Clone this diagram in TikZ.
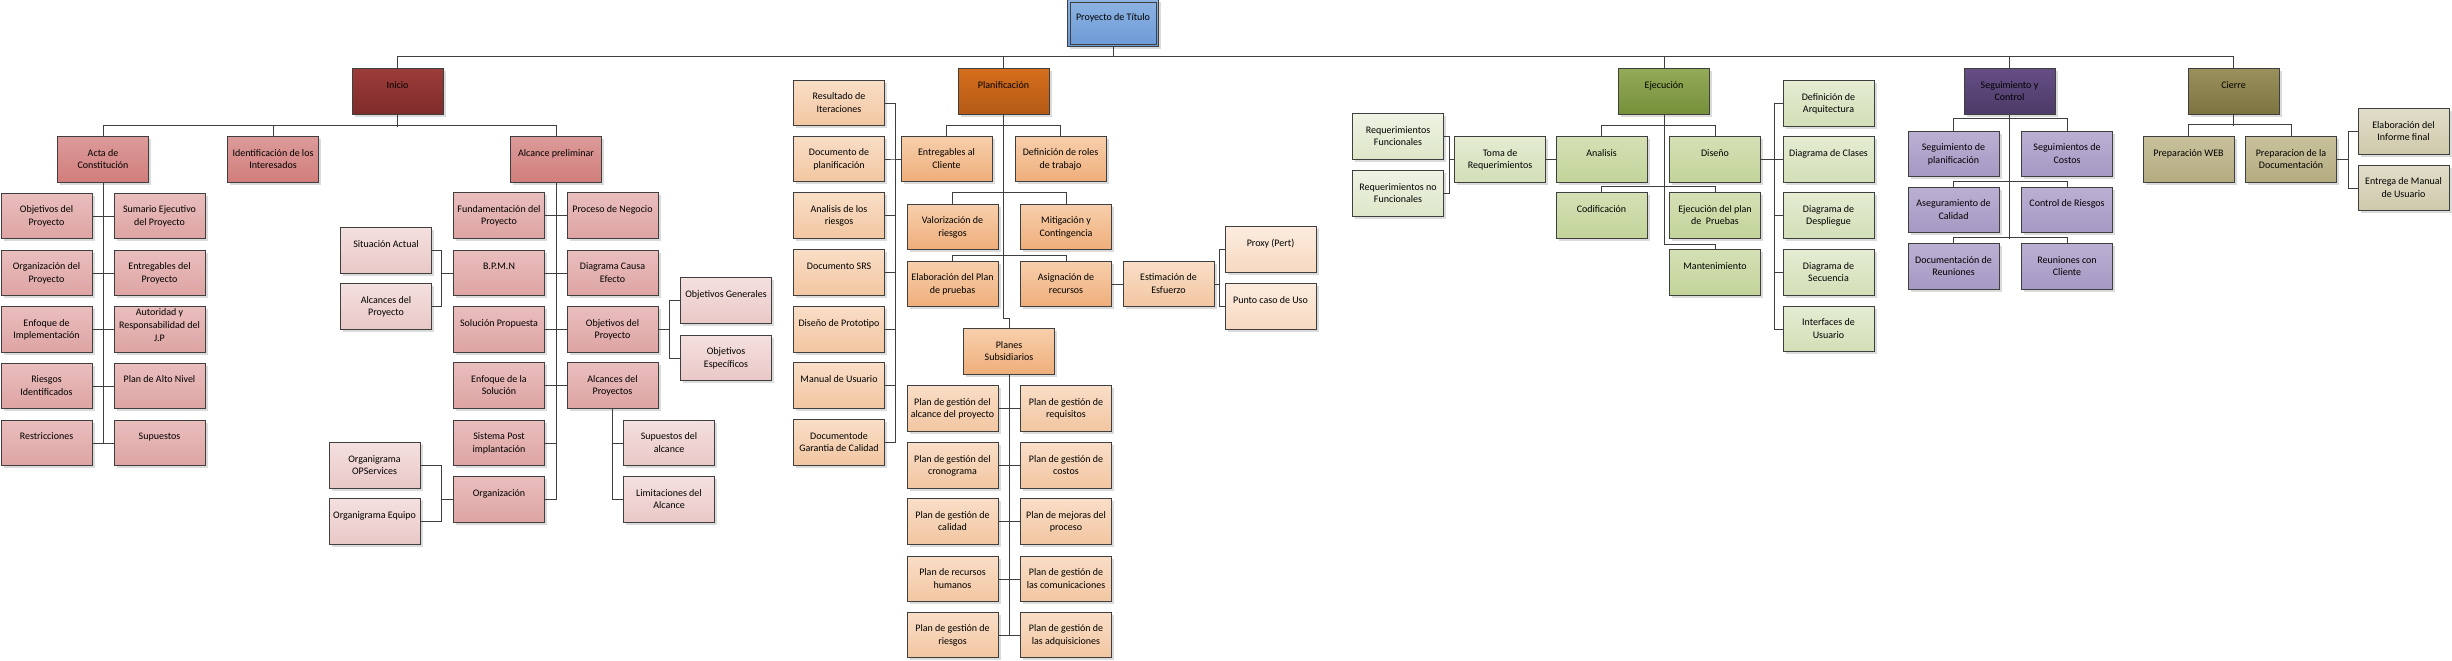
\documentclass[tikz,border=0pt]{standalone}
\usepackage{fontspec}
\setmainfont{Carlito}
\usetikzlibrary{shadows}
\definecolor{lc}{HTML}{3F3F3F}
\definecolor{rootT}{HTML}{8DB3E2}\definecolor{rootB}{HTML}{6C9AD6}
\definecolor{iniT}{HTML}{9C3C3A}\definecolor{iniB}{HTML}{7E2C2A}
\definecolor{redIIT}{HTML}{DB9B99}\definecolor{redIIB}{HTML}{D17E7C}
\definecolor{redIIIT}{HTML}{E9BEBD}\definecolor{redIIIB}{HTML}{DDA4A3}
\definecolor{redIVT}{HTML}{F4E0DF}\definecolor{redIVB}{HTML}{E9C8C7}
\definecolor{plaT}{HTML}{D66E1C}\definecolor{plaB}{HTML}{B35A16}
\definecolor{orIIT}{HTML}{F7CFAC}\definecolor{orIIB}{HTML}{EFAE7A}
\definecolor{orIIIT}{HTML}{F9DEC7}\definecolor{orIIIB}{HTML}{F2C6A1}
\definecolor{orIVT}{HTML}{FCECDF}\definecolor{orIVB}{HTML}{F7D9C0}
\definecolor{ejeT}{HTML}{93AA57}\definecolor{ejeB}{HTML}{76903A}
\definecolor{grIIT}{HTML}{D4E0B5}\definecolor{grIIB}{HTML}{C3D49A}
\definecolor{grIIIT}{HTML}{E4ECD2}\definecolor{grIIIB}{HTML}{D3DFB7}
\definecolor{grIVT}{HTML}{EEF3E3}\definecolor{grIVB}{HTML}{DDE6C8}
\definecolor{segT}{HTML}{654E85}\definecolor{segB}{HTML}{4D3A67}
\definecolor{puIIT}{HTML}{BBB0D3}\definecolor{puIIB}{HTML}{A598C3}
\definecolor{cieT}{HTML}{9A905B}\definecolor{cieB}{HTML}{7D7341}
\definecolor{olIIT}{HTML}{C8C19C}\definecolor{olIIB}{HTML}{B4AB80}
\definecolor{olIIIT}{HTML}{E1DDC9}\definecolor{olIIIB}{HTML}{CFC9AB}
\newcommand\bt[2][19.5pt]{\parbox[c][45.5pt][t]{91pt}{\centering\fontsize{10}{12.7}\selectfont\makebox[91pt]{\rule{0pt}{#1}\begin{tabular}[t]{@{}c@{}}#2\end{tabular}}}}
\tikzset{
  bx/.style={draw=lc, line width=1pt, inner sep=0pt, minimum width=91pt, minimum height=45.5pt, text=black,
    drop shadow={shadow xshift=2.5pt, shadow yshift=-2.5pt, fill=black!14, opacity=1}},
  rootbox/.style={bx, minimum width=90pt, minimum height=47pt, top color=rootT, bottom color=rootB},
  iniD/.style={bx, top color=iniT, bottom color=iniB},
  redII/.style={bx, top color=redIIT, bottom color=redIIB},
  redIII/.style={bx, top color=redIIIT, bottom color=redIIIB},
  redIV/.style={bx, top color=redIVT, bottom color=redIVB},
  plaD/.style={bx, top color=plaT, bottom color=plaB},
  orII/.style={bx, top color=orIIT, bottom color=orIIB},
  orIII/.style={bx, top color=orIIIT, bottom color=orIIIB},
  orIV/.style={bx, top color=orIVT, bottom color=orIVB},
  ejeD/.style={bx, top color=ejeT, bottom color=ejeB},
  grII/.style={bx, top color=grIIT, bottom color=grIIB},
  grIII/.style={bx, top color=grIIIT, bottom color=grIIIB},
  grIV/.style={bx, top color=grIVT, bottom color=grIVB},
  segD/.style={bx, top color=segT, bottom color=segB},
  puII/.style={bx, top color=puIIT, bottom color=puIIB},
  cieD/.style={bx, top color=cieT, bottom color=cieB},
  olII/.style={bx, top color=olIIT, bottom color=olIIB},
  olIII/.style={bx, top color=olIIIT, bottom color=olIIIB},
  conn/.style={draw=lc, line width=1pt},
}
\begin{document}
\begin{tikzpicture}[x=1pt, y=-1pt]
\fill[white] (0,0) rectangle (2452,661);
\useasboundingbox (0,0) rectangle (2452,661);
% root
\node[rootbox] (root) at (1113,23.5) {\bt{Proyecto de Título}};
\draw[lc, line width=0.8pt] ([xshift=3pt,yshift=-3pt]root.north west) rectangle ([xshift=-3pt,yshift=3pt]root.south east);
% level 1
\node[iniD] (ini) at (397.5,91.5) {\bt{Inicio}};
\node[plaD] (pla) at (1003.5,91.5) {\bt{Planificación}};
\node[ejeD] (eje) at (1664,91.5) {\bt{Ejecución}};
\node[segD] (seg) at (2009.5,91.5) {\bt{Seguimiento y\\Control}};
\node[cieD] (cie) at (2233.5,91.5) {\bt{Cierre}};
% Inicio
\node[redII] (acta) at (103,159.5) {\bt{Acta de\\Constitución}};
\node[redII] (idi) at (273,159.5) {\bt{Identificación de los\\Interesados}};
\node[redII] (alp) at (556,159.5) {\bt{Alcance preliminar}};
\node[redIII] (a11) at (46.5,216) {\bt{Objetivos del\\Proyecto}};
\node[redIII] (a12) at (159.5,216) {\bt{Sumario Ejecutivo\\del Proyecto}};
\node[redIII] (a21) at (46.5,273) {\bt{Organización del\\Proyecto}};
\node[redIII] (a22) at (159.5,273) {\bt{Entregables del\\Proyecto}};
\node[redIII] (a31) at (46.5,329.5) {\bt{Enfoque de\\Implementación}};
\node[redIII] (a32) at (159.5,329.5) {\bt[6pt]{Autoridad y\\Responsabilidad del\\J.P}};
\node[redIII] (a41) at (46.5,386) {\bt{Riesgos\\Identificados}};
\node[redIII] (a42) at (159.5,386) {\bt{Plan de Alto Nivel}};
\node[redIII] (a51) at (46.5,443) {\bt{Restricciones}};
\node[redIII] (a52) at (159.5,443) {\bt{Supuestos}};
\node[redIII] (p11) at (499,215.5) {\bt{Fundamentación del\\Proyecto}};
\node[redIII] (p12) at (612.5,215.5) {\bt{Proceso de Negocio}};
\node[redIII] (p21) at (499,273) {\bt{B.P.M.N}};
\node[redIII] (p22) at (612.5,273) {\bt{Diagrama Causa\\Efecto}};
\node[redIII] (p31) at (499,329.5) {\bt{Solución Propuesta}};
\node[redIII] (p32) at (612.5,329.5) {\bt{Objetivos del\\Proyecto}};
\node[redIII] (p41) at (499,385.5) {\bt{Enfoque de la\\Solución}};
\node[redIII] (p42) at (612.5,385.5) {\bt{Alcances del\\Proyectos}};
\node[redIII] (p51) at (499,443) {\bt{Sistema Post\\implantación}};
\node[redIII] (p61) at (499,499.5) {\bt{Organización}};
\node[redIV] (sit) at (386,250.5) {\bt{Situación Actual}};
\node[redIV] (alpy) at (386,306.5) {\bt{Alcances del\\Proyecto}};
\node[redIV] (ogen) at (726,300.5) {\bt{Objetivos Generales}};
\node[redIV] (oesp) at (726,358) {\bt{Objetivos\\Específicos}};
\node[redIV] (sup) at (669,443) {\bt{Supuestos del\\alcance}};
\node[redIV] (lim) at (669,499.5) {\bt{Limitaciones del\\Alcance}};
\node[redIV] (ops) at (374.5,465.5) {\bt{Organigrama\\OPServices}};
\node[redIV] (oeq) at (374.5,521.5) {\bt{Organigrama Equipo}};
% Planificacion
\node[orII] (ent) at (946.5,159) {\bt{Entregables al\\Cliente}};
\node[orII] (def) at (1060.5,159) {\bt{Definición de roles\\de trabajo}};
\node[orII] (val) at (952.5,227) {\bt{Valorización de\\riesgos}};
\node[orII] (mit) at (1066,227) {\bt{Mitigación y\\Contingencia}};
\node[orII] (ela) at (952.5,284) {\bt{Elaboración del Plan\\de pruebas}};
\node[orII] (asi) at (1066,284) {\bt{Asignación de\\recursos}};
\node[orII] (ps) at (1009,351.5) {\bt{Planes\\Subsidiarios}};
\node[orIII] (est) at (1168.5,284) {\bt{Estimación de\\Esfuerzo}};
\node[orIV] (prx) at (1270.5,249.5) {\bt{Proxy (Pert)}};
\node[orIV] (pcu) at (1270.5,306.5) {\bt{Punto caso de Uso}};
\node[orIII] (r1) at (839,103) {\bt{Resultado de\\Iteraciones}};
\node[orIII] (r2) at (839,159) {\bt{Documento de\\planificación}};
\node[orIII] (r3) at (839,215.5) {\bt{Analisis de los\\riesgos}};
\node[orIII] (r4) at (839,272.5) {\bt{Documento SRS}};
\node[orIII] (r5) at (839,329.5) {\bt{Diseño de Prototipo}};
\node[orIII] (r6) at (839,385.5) {\bt{Manual de Usuario}};
\node[orIII] (r7) at (839,442.5) {\bt{Documentode\\Garantia de Calidad}};
\node[orIII] (q11) at (952.5,408.5) {\bt{Plan de gestión del\\alcance del proyecto}};
\node[orIII] (q12) at (1066,408.5) {\bt{Plan de gestión de\\requisitos}};
\node[orIII] (q21) at (952.5,465.5) {\bt{Plan de gestión del\\cronograma}};
\node[orIII] (q22) at (1066,465.5) {\bt{Plan de gestión de\\costos}};
\node[orIII] (q31) at (952.5,521.5) {\bt{Plan de gestión de\\calidad}};
\node[orIII] (q32) at (1066,521.5) {\bt{Plan de mejoras del\\proceso}};
\node[orIII] (q41) at (952.5,579) {\bt{Plan de recursos\\humanos}};
\node[orIII] (q42) at (1066,579) {\bt{Plan de gestión de\\las comunicaciones}};
\node[orIII] (q51) at (952.5,635) {\bt{Plan de gestión de\\riesgos}};
\node[orIII] (q52) at (1066,635) {\bt{Plan de gestión de\\las adquisiciones}};
% Ejecucion
\node[grII] (ana) at (1601.5,159.5) {\bt{Analisis}};
\node[grII] (dis) at (1715,159.5) {\bt{Diseño}};
\node[grII] (cod) at (1601.5,215.5) {\bt{Codificación}};
\node[grII] (epp) at (1715,215.5) {\bt{Ejecución del plan\\de \ Pruebas}};
\node[grII] (man) at (1715,272.5) {\bt{Mantenimiento}};
\node[grIII] (tom) at (1500,159.5) {\bt{Toma de\\Requerimientos}};
\node[grIV] (rf) at (1398,136.5) {\bt{Requerimientos\\Funcionales}};
\node[grIV] (rnf) at (1398,193.5) {\bt{Requerimientos no\\Funcionales}};
\node[grIII] (da) at (1828.5,103.5) {\bt{Definición de\\Arquitectura}};
\node[grIII] (dc) at (1828.5,159.5) {\bt{Diagrama de Clases}};
\node[grIII] (dd) at (1828.5,215.5) {\bt{Diagrama de\\Despliegue}};
\node[grIII] (ds) at (1828.5,272.5) {\bt{Diagrama de\\Secuencia}};
\node[grIII] (iu) at (1828.5,329) {\bt{Interfaces de\\Usuario}};
% Seguimiento
\node[puII] (s11) at (1953.5,154) {\bt{Seguimiento de\\planificación}};
\node[puII] (s12) at (2067,154) {\bt{Seguimientos de\\Costos}};
\node[puII] (s21) at (1953.5,210) {\bt{Aseguramiento de\\Calidad}};
\node[puII] (s22) at (2067,210) {\bt{Control de Riesgos}};
\node[puII] (s31) at (1953.5,266.5) {\bt{Documentación de\\Reuniones}};
\node[puII] (s32) at (2067,266.5) {\bt{Reuniones con\\Cliente}};
% Cierre
\node[olII] (pw) at (2188.5,159.5) {\bt{Preparación WEB}};
\node[olII] (pd) at (2291,159.5) {\bt{Preparacion de la\\Documentación}};
\node[olIII] (ei) at (2403.5,131.5) {\bt{Elaboración del\\Informe final}};
\node[olIII] (em) at (2403.5,188) {\bt{Entrega de Manual\\de Usuario}};
% ---------- connectors
\draw[conn] (root.south) -- ++(0,10);
\draw[conn] (ini.north) -- ++(0,-11.75) -| (cie.north);
\draw[conn] (pla.north) -- ++(0,-11.75);
\draw[conn] (eje.north) -- ++(0,-11.75);
\draw[conn] (seg.north) -- ++(0,-11.75);
% Inicio
\draw[conn] (ini.south) -- ++(0,12);
\draw[conn] (acta.north) -- ++(0,-10.5) -| (alp.north);
\draw[conn] (idi.north) -- ++(0,-10.5);
\draw[conn] (acta.south) -- (acta.south |- a51.east);
\foreach \r in {1,...,5} \draw[conn] (a\r1.east) -- (a\r2.west);
\draw[conn] (alp.south) -- (alp.south |- p61.east);
\foreach \r in {1,...,4} \draw[conn] (p\r1.east) -- (p\r2.west);
\draw[conn] (p51.east) -- (p51.east -| alp.south);
\draw[conn] (p61.east) -- (p61.east -| alp.south);
\draw[conn] (p21.west) -- ++(-12,0) |- (sit.east);
\draw[conn] (p21.west) -- ++(-12,0) |- (alpy.east);
\draw[conn] (p61.west) -- ++(-12,0) |- (ops.east);
\draw[conn] (p61.west) -- ++(-12,0) |- (oeq.east);
\draw[conn] (p32.east) -- ++(11,0) |- (ogen.west);
\draw[conn] (p32.east) -- ++(11,0) |- (oesp.west);
\draw[conn] (p42.south) |- (sup.west);
\draw[conn] (p42.south) |- (lim.west);
% Planificacion
\draw[conn] (pla.south) -- ++(0,204) -| (ps.north);
\draw[conn] (ent.north) -- ++(0,-10.5) -| (def.north);
\draw[conn] (val.north) -- ++(0,-11) -| (mit.north);
\draw[conn] (ela.north) -- ++(0,-5.5) -| (asi.north);
\foreach \n in {r1,r2,r3,r4,r5,r6,r7} \draw[conn] (ent.west) -- ++(-5,0) |- (\n.east);
\draw[conn] (asi.east) -- (est.west);
\draw[conn] (est.east) -- ++(5,0) |- (prx.west);
\draw[conn] (est.east) -- ++(5,0) |- (pcu.west);
\draw[conn] (ps.south) -- (ps.south |- q51.east);
\foreach \r in {1,...,5} \draw[conn] (q\r1.east) -- (q\r2.west);
% Ejecucion
\draw[conn] (eje.south) -- ++(0,130) -| (man.north);
\draw[conn] (ana.north) -- ++(0,-11) -| (dis.north);
\draw[conn] (cod.north) -- ++(0,-6) -| (epp.north);
\draw[conn] (tom.east) -- (ana.west);
\draw[conn] (tom.west) -- ++(-5,0) |- (rf.east);
\draw[conn] (tom.west) -- ++(-5,0) |- (rnf.east);
\foreach \n in {da,dc,dd,ds,iu} \draw[conn] (dis.east) -- ++(13,0) |- (\n.west);
% Seguimiento
\draw[conn] (seg.south) -- ++(0,124);
\draw[conn] (s11.north) -- ++(0,-12) -| (s12.north);
\draw[conn] (s21.north) -- ++(0,-5.5) -| (s22.north);
\draw[conn] (s31.north) -- ++(0,-5.5) -| (s32.north);
% Cierre
\draw[conn] (cie.south) -- ++(0,11);
\draw[conn] (pw.north) -- ++(0,-11.5) -| (pd.north);
\draw[conn] (pd.east) -- ++(11,0) |- (ei.west);
\draw[conn] (pd.east) -- ++(11,0) |- (em.west);
\end{tikzpicture}
\end{document}
